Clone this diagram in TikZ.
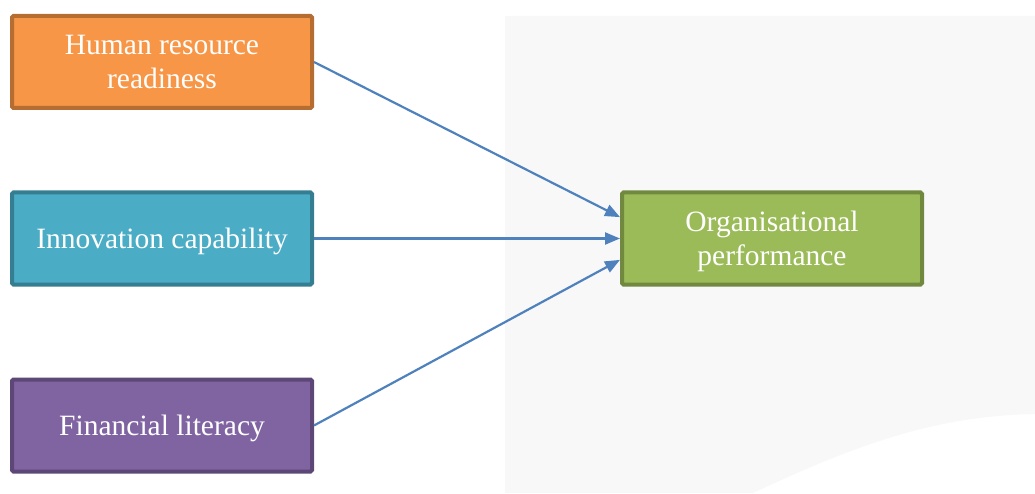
\documentclass[tikz,border=0pt]{standalone}
\usepackage{fontspec}
\setmainfont{Liberation Serif}
\usetikzlibrary{arrows.meta,positioning}

\definecolor{hrfill}{HTML}{F79646}
\definecolor{hrline}{HTML}{B66D31}
\definecolor{infill}{HTML}{4BACC6}
\definecolor{inline}{HTML}{357D91}
\definecolor{fifill}{HTML}{8064A2}
\definecolor{filine}{HTML}{5C4776}
\definecolor{pffill}{HTML}{9BBB59}
\definecolor{pfline}{HTML}{71893F}
\definecolor{link}{HTML}{4F81BD}
\definecolor{backg}{HTML}{F8F8F8}

\begin{document}
\begin{tikzpicture}[x=1pt,y=1pt,>={Triangle[length=15pt,width=12pt]},auto]
\tikzstyle{box}=[draw,line width=4pt,rounded corners=1.5pt,text=white,text centered,align=center,text depth=0pt,minimum width=300pt,minimum height=92pt,font=\fontsize{29.5}{34}\selectfont]
\tikzstyle{every edge}=[draw,->,link,line width=2.2pt]

\useasboundingbox (0,0) rectangle (1035,493);
\fill[backg] (505,477) -- (1035,477) -- (1035,79) .. controls (930,77) and (850,45) .. (753,0) -- (505,0) -- cycle;

\node[box,fill=hrfill,draw=hrline]  (hr)   at (162,431)                           {Human resource\\readiness};
\node[box,fill=infill,draw=inline]  (inno) [below of=hr,node distance=176.5pt]    {Innovation capability};
\node[box,fill=fifill,draw=filine]  (fin)  [below of=inno,node distance=187pt]    {Financial literacy};
\node[box,fill=pffill,draw=pfline]  (perf) [right of=inno,node distance=610pt]    {Organisational\\performance};

\path
(hr.east) edge (perf.172)
(inno) edge (perf)
(fin.east) edge (perf.188)
;
\end{tikzpicture}
\end{document}
